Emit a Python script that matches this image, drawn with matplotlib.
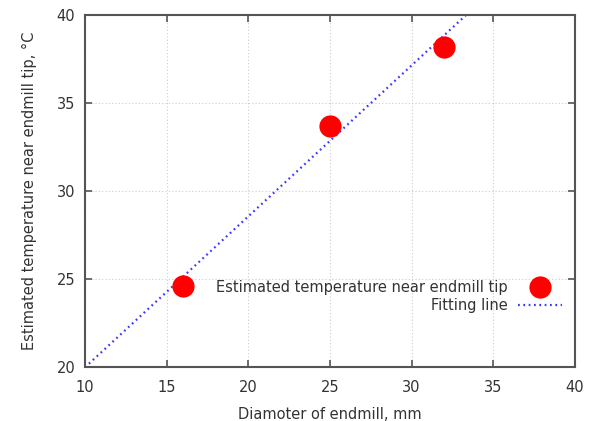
import matplotlib.pyplot as plt
import numpy as np

plt.rcParams["font.family"] = ["DejaVu Sans"]

# data
diameter = [16, 25, 32]
temperature = [24.6, 33.7, 38.2]
fit_slope = 0.858
fit_intercept = 11.4
xticks = [10, 15, 20, 25, 30, 35, 40]
yticks = [20, 25, 30, 35, 40]

txt = "#333333"
fs = 10.5
fig = plt.figure(figsize=(5.94, 4.21), dpi=100)
ax = fig.add_axes([85 / 594, 1 - 367 / 421, 490 / 594, 352 / 421])

# fitting line over the whole x range (clipped by the axes)
xf = np.array([xticks[0], xticks[-1]])
ax.plot(xf, fit_slope * xf + fit_intercept, color="#3a3aff", lw=1.6,
        ls=(0, (0.8, 1.6)), label="Fitting line", zorder=2)
ax.plot(diameter, temperature, "o", color="#ff0000", ms=16, mec="none",
        label="Estimated temperature near endmill tip", zorder=3)

ax.set_xlim(xticks[0], xticks[-1])
ax.set_ylim(yticks[0], yticks[-1])
ax.set_xticks(xticks)
ax.set_yticks(yticks)
ax.grid(True, color="#cccccc", ls=(0, (1, 2)), lw=0.8)
ax.tick_params(direction="in", top=True, right=True, length=5, width=1.2,
               color="#555555", labelcolor=txt, labelsize=fs)
ax.tick_params(axis="x", pad=9)
ax.tick_params(axis="y", pad=7)
for s in ax.spines.values():
    s.set_color("#555555")
    s.set_linewidth(1.5)

ax.set_xlabel("Diamoter of endmill, mm", color=txt, fontsize=fs, labelpad=9)
ax.set_ylabel("Estimated temperature near endmill tip, °C", color=txt,
              fontsize=fs, labelpad=14)

h, l = ax.get_legend_handles_labels()
leg = ax.legend(h[::-1], l[::-1], loc="upper right", bbox_to_anchor=(0.973, 0.247),
                frameon=False, markerfirst=False, fontsize=fs, handlelength=3.0,
                handletextpad=0.7, borderpad=0, borderaxespad=0, labelspacing=0.2,
                labelcolor=txt)

fig.savefig("out.png", dpi=100)
